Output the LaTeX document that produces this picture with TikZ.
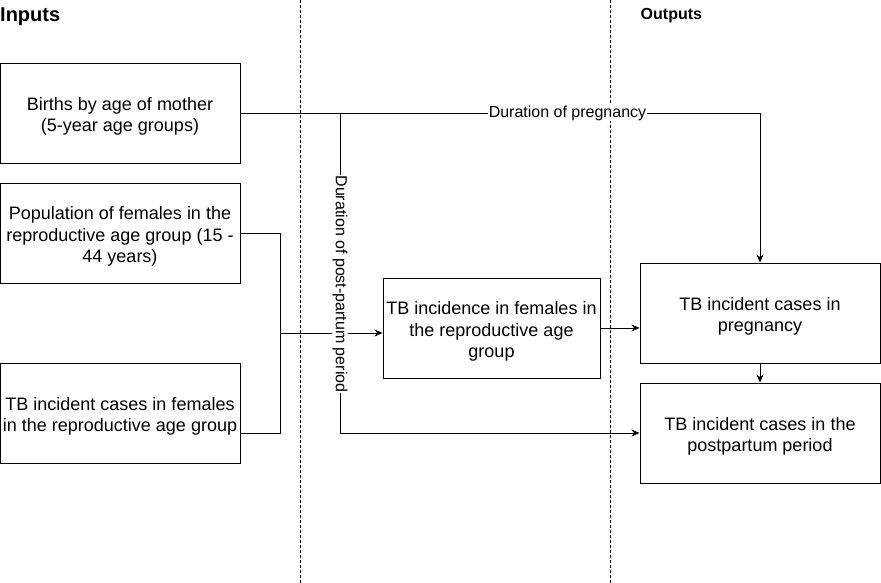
\documentclass[tikz,border=0pt]{standalone}
\usepackage{fontspec}
\setmainfont{Liberation Sans}
\usetikzlibrary{arrows.meta}
\begin{document}
\begin{tikzpicture}[x=1pt,y=-1pt,
  box/.style={draw,line width=0.9pt,minimum width=240pt,minimum height=100pt,inner sep=0pt,
    label={[align=center,font=\fontsize{18}{21.6}\selectfont,inner sep=0pt,yshift=-3.5pt]center:{#1}}},
  conn/.style={line width=0.9pt},
  arr/.style={conn,-{Stealth[length=8pt,width=7pt,inset=2.5pt]}},
  divider/.style={dashed,line width=0.6pt,dash pattern=on 3pt off 2pt},
  lbl/.style={fill=white,inner sep=0.5pt,font=\fontsize{16}{19}\selectfont}]
\useasboundingbox (0,0) rectangle (881,583);
% dividers
\coordinate (d1t) at (300,0); \coordinate (d1b) at (300,583);
\coordinate (d2t) at (610,0); \coordinate (d2b) at (610,583);
\draw[divider] (d1t) -- (d1b);
\draw[divider] (d2t) -- (d2b);
% headings
\node[anchor=base west,inner sep=0pt,font=\fontsize{20}{24}\selectfont\bfseries] (inputs) at (0,21.5) {Inputs};
\node[anchor=base west,inner sep=0pt,font=\fontsize{16}{19}\selectfont\bfseries] (outputs) at (640.5,20) {Outputs};
% boxes
\node[box={Births by age of mother\\(5-year age groups)}] (births) at (120,113) {};
\node[box={Population of females in the\\reproductive age group (15 -\\44 years)}] (pop) at (120,233) {};
\node[box={TB incident cases in females\\in the reproductive age group}] (tbf) at (120,413) {};
\node[box={TB incidence in females in\\the reproductive age\\group},minimum width=217pt] (mid) at (491.5,328) {};
\node[box={TB incident cases in\\pregnancy}] (preg) at (760,313) {};
\node[box={TB incident cases in the\\postpartum period}] (post) at (760,433) {};
% coordinates
\coordinate (br) at (340,113);
\coordinate (pc) at (760,113);
\coordinate (pp) at (340,433);
\coordinate (ja) at (280,233);
\coordinate (jb) at (280,433);
\coordinate (jm) at (280,333);
\coordinate (midin) at (mid.west |- jm);
% connectors
\draw[arr] (births.east) -- (pc) -- (preg.north);
\draw[arr] (br) -- (pp) -- (post.west |- pp);
\draw[conn] (pop.east |- ja) -- (ja) -- (jm);
\draw[conn] (tbf.east |- jb) -- (jb) -- (jm);
\draw[arr] (jm) -- (midin);
\draw[arr] (mid.east) -- (preg.west |- mid.east);
\draw[arr] (preg.south) -- (post.north);
% labels
\node[lbl] (lpreg) at (567.5,113) {Duration of pregnancy};
\node[lbl,rotate=-90] (lpost) at (340,284) {Duration of post-partum period};
\end{tikzpicture}
\end{document}
